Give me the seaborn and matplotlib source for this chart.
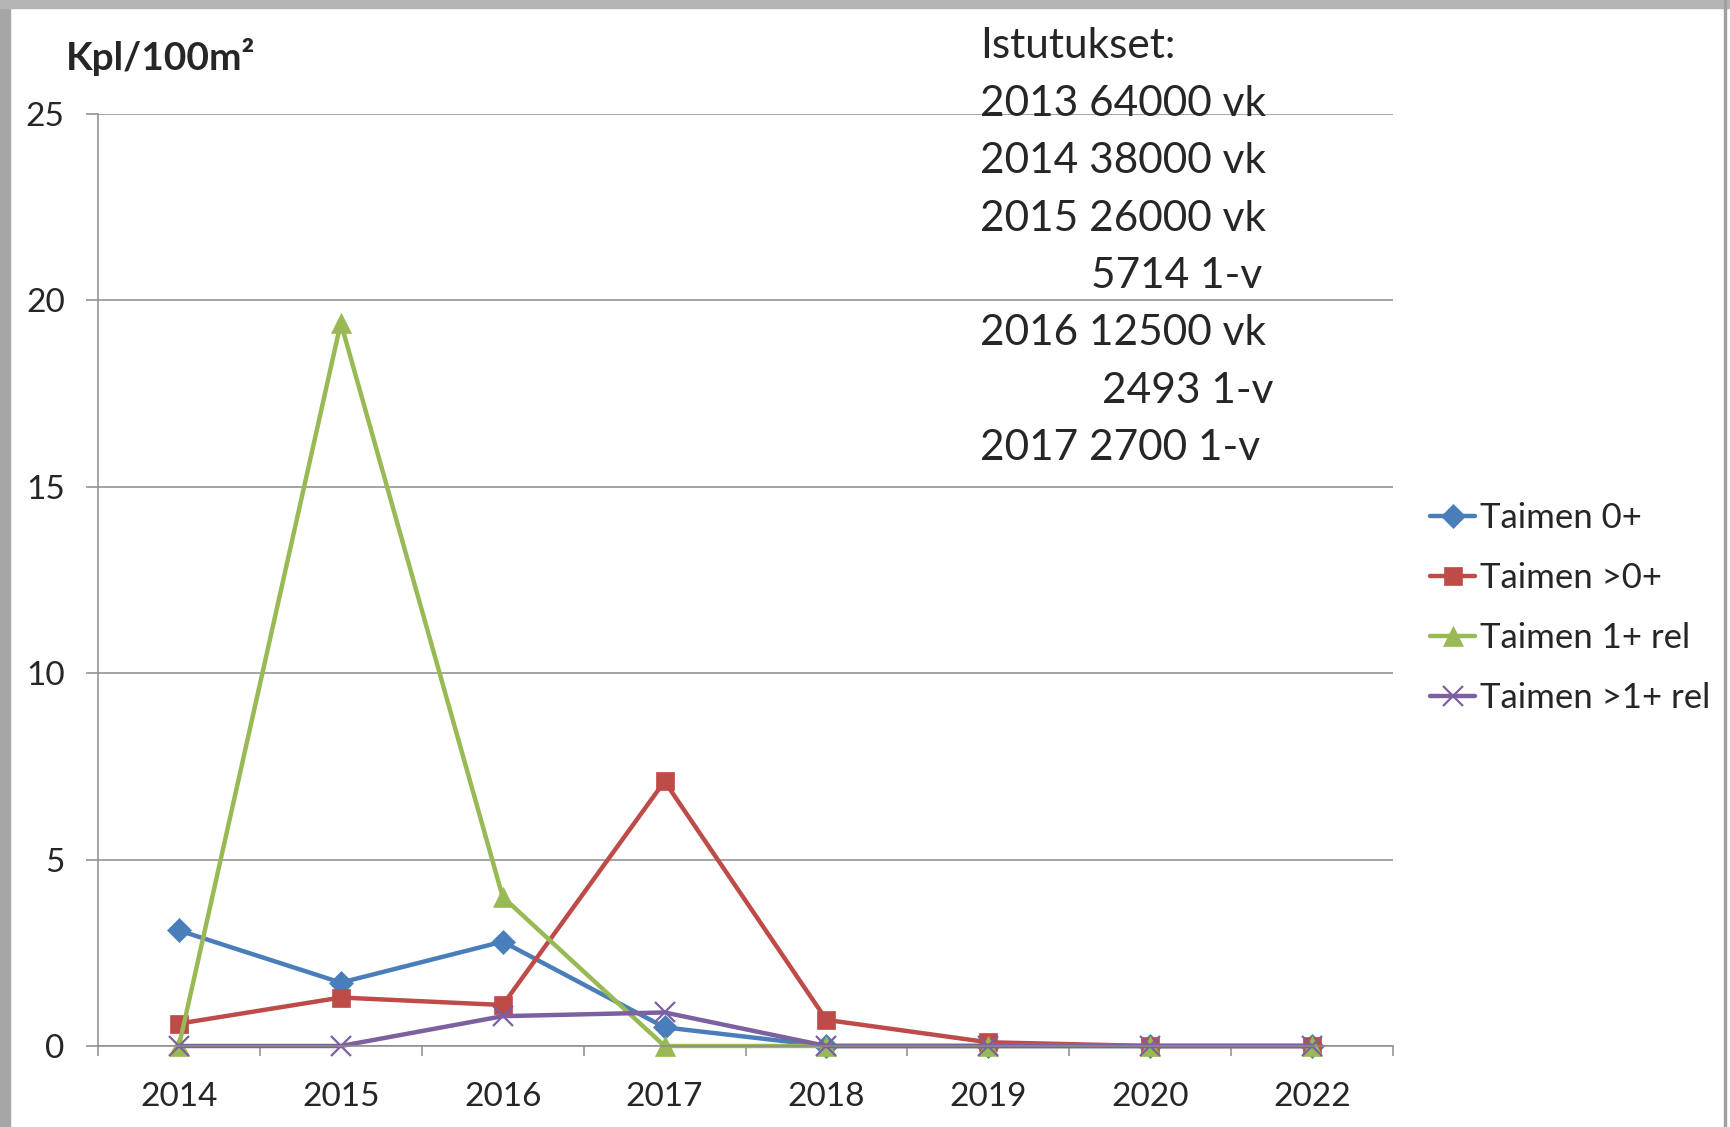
import matplotlib
matplotlib.use("Agg")
import matplotlib.pyplot as plt
from matplotlib.patches import Rectangle
import seaborn as sns
import pandas as pd

years = ["2014", "2015", "2016", "2017", "2018", "2019", "2020", "2022"]
taimen_0 = [3.1, 1.7, 2.8, 0.5, 0.0, 0.0, 0.0, 0.0]
taimen_gt0 = [0.6, 1.3, 1.1, 7.1, 0.7, 0.1, 0.0, 0.0]
taimen_1rel = [0.0, 19.4, 4.0, 0.0, 0.0, 0.0, 0.0, 0.0]
taimen_gt1rel = [0.0, 0.0, 0.8, 0.9, 0.0, 0.0, 0.0, 0.0]

series_names = ["Taimen 0+", "Taimen >0+", "Taimen 1+ rel", "Taimen >1+ rel"]
series_values = [taimen_0, taimen_gt0, taimen_1rel, taimen_gt1rel]
colors = ["#4A7EBB", "#BE4B48", "#98B954", "#7D60A0"]
markers = ["D", "s", "^", "x"]
marker_sizes = [12, 13, 14, 14]

stocking_lines = [
    "Istutukset:",
    "2013 64000 vk",
    "2014 38000 vk",
    "2015 26000 vk",
    "5714 1-v",
    "2016 12500 vk",
    "2493 1-v",
    "2017 2700 1-v",
]
stocking_x = [980, 980, 980, 980, 1091, 980, 1102, 980]

sns.set_style("white")
plt.rcParams["font.family"] = ["Lato", "DejaVu Sans"]

W, H = 1731, 1127
fig = plt.figure(figsize=(W / 100, H / 100), dpi=100)
ax = fig.add_axes([98 / W, 1 - 1046 / H, (1393 - 98) / W, (1046 - 114) / H])

pos = list(range(len(years)))
for name, vals, col, mk, ms in zip(series_names, series_values, colors, markers, marker_sizes):
    df = pd.DataFrame({"pos": pos, "value": vals})
    sns.lineplot(
        data=df, x="pos", y="value", ax=ax, color=col, lw=3.2,
        marker=mk, markersize=ms, markeredgecolor=col,
        markeredgewidth=1.6 if mk == "x" else 0.5,
        label=name, sort=False, clip_on=False,
    )

ax.set_xlim(-0.5, len(years) - 0.5)
ax.set_ylim(0, 25)
ax.set_yticks([0, 5, 10, 15, 20, 25])
ax.set_xticks(pos)
ax.set_xticklabels(years)
ax.set_xticks([p - 0.5 for p in pos] + [len(years) - 0.5], minor=True)
ax.set_xlabel("")
ax.set_ylabel("")

ax.grid(axis="y", color="#8C8C8C", lw=1.1)
ax.set_axisbelow(True)
for side in ["top", "right"]:
    ax.spines[side].set_visible(False)
for side in ["left", "bottom"]:
    ax.spines[side].set_color("#8C8C8C")
    ax.spines[side].set_linewidth(1.1)

ax.tick_params(axis="y", labelsize=24, length=9, width=1.1, color="#8C8C8C",
               pad=15, direction="out", left=True)
ax.tick_params(axis="x", which="major", labelsize=24, length=0, pad=26)
ax.tick_params(axis="x", which="minor", length=7, width=1.1, color="#8C8C8C",
               direction="out", bottom=True)

fig.text(66 / W, 1 - 57 / H, "Kpl/100m²", fontsize=28, fontweight="bold",
         ha="left", va="center")

line_y = [46, 104, 161, 219, 276, 333, 391, 448]
for txt, x, y in zip(stocking_lines, stocking_x, line_y):
    fig.text(x / W, 1 - y / H, txt, fontsize=30.5, ha="left", va="center")

handles, labels = ax.get_legend_handles_labels()
ax.legend(handles, labels, loc="center left", bbox_to_anchor=(1430 / W, 1 - 608 / H),
          bbox_transform=fig.transFigure, frameon=False, fontsize=25,
          handlelength=1.3, handletextpad=0.15, labelspacing=0.8,
          borderpad=0, borderaxespad=0)

# screenshot frame
fig.patches.append(Rectangle((0, 0), 10 / W, 1, transform=fig.transFigure,
                             color="#A6A6A6", zorder=0))
fig.patches.append(Rectangle((0, 1 - 8 / H), 1, 8 / H, transform=fig.transFigure,
                             color="#B4B4B4", zorder=0))
fig.patches.append(Rectangle((1724 / W, 0), 2 / W, 1, transform=fig.transFigure,
                             color="#A0A0A0", zorder=0))

fig.savefig("out.png", dpi=100)
